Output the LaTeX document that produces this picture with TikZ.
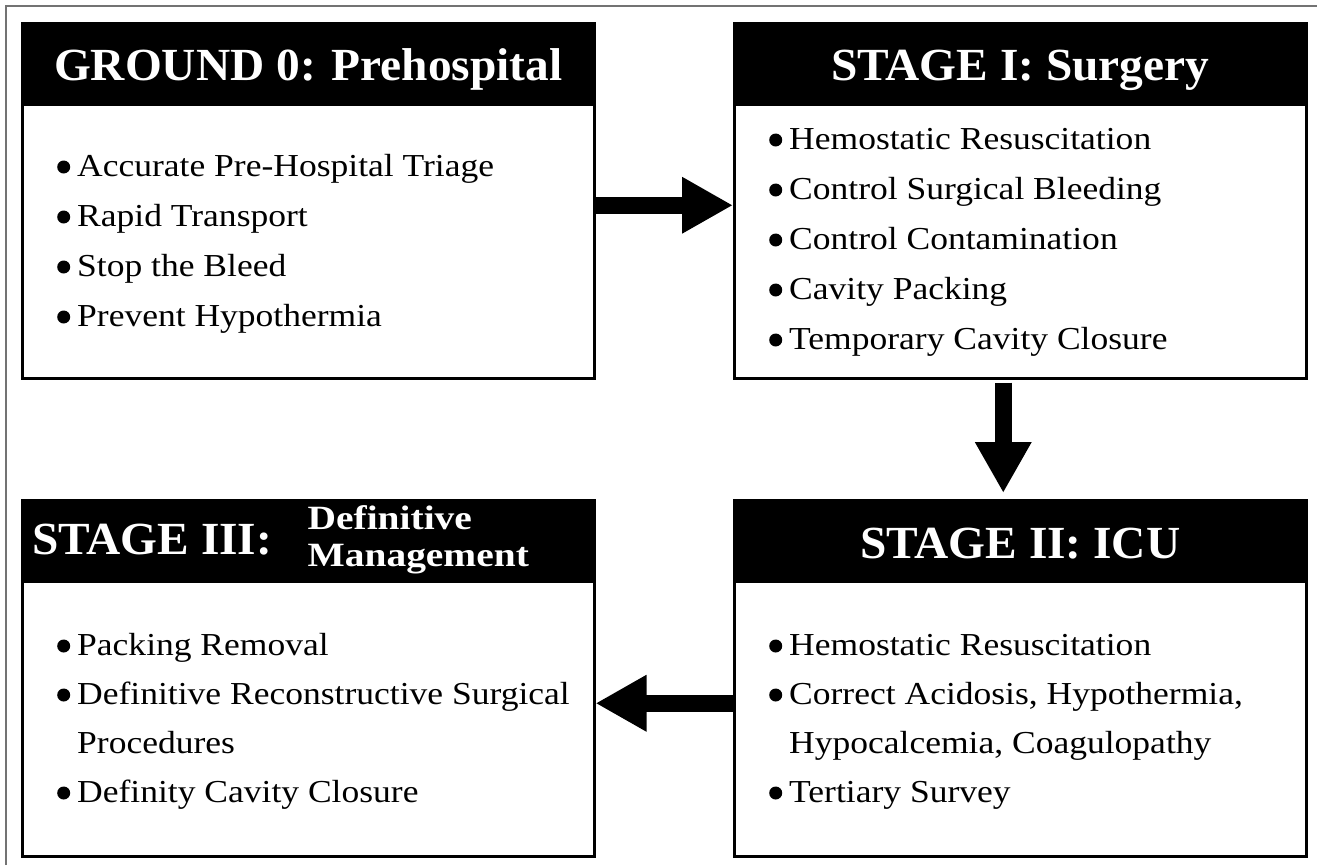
\documentclass[tikz,border=0pt]{standalone}
\usepackage{fontspec}
\setmainfont{Liberation Serif}
\newfontfamily\bodyfont[FakeStretch=1.11]{Liberation Serif}
\newfontfamily\headfont[FakeStretch=1.03]{Liberation Serif}
\newfontfamily\subfont[FakeStretch=1.16]{Liberation Serif}
\usetikzlibrary{arrows.meta,positioning}

\newcommand{\bul}{\makebox[20pt][l]{\raisebox{2.5pt}{\tikz\fill (0,0) circle (6.5pt);}}}
\newcommand{\hang}{\hspace*{20pt}}

\tikzset{
  stagebox/.style={draw=black, line width=2.5pt, minimum width=572pt, minimum height=#1, anchor=north west, inner sep=0pt},
  headband/.style={fill=black, minimum width=572pt, minimum height=84pt, anchor=north west, inner sep=0pt},
  headtext/.style={text=white, font=\headfont\fontsize{46}{46}\selectfont\bfseries, inner sep=0pt},
  itemlist/.style={align=left, anchor=base west, inner sep=0pt, font=\bodyfont\fontsize{32}{#1}\selectfont},
  bigarrow/.style={line width=17pt, -{Triangle[length=51pt,width=53pt]}},
}

\begin{document}
\begin{tikzpicture}[x=1pt,y=-1pt]
\useasboundingbox (0,0) rectangle (1317,865);
\draw[black!55, line width=1.5pt] (6,865) -- (6,6) -- (1317,6);

% the four stages (item lists sit on their last baseline)
\node[stagebox=355pt] (g0) at (21,22) {};
\node[headband] (g0h) at (g0.north west) {};
\node[headtext, anchor=base] (g0t) at ([yshift=-58pt]g0.north) {GROUND 0: Prehospital};
\node[itemlist=50pt] (g0b) at ([xshift=36pt,yshift=-304pt]g0.north west)
  {\bul Accurate Pre-Hospital Triage\\ \bul Rapid Transport\\ \bul Stop the Bleed\\ \bul Prevent Hypothermia};

\node[stagebox=355pt] (s1) at (733,22) {};
\node[headband] (s1h) at (s1.north west) {};
\node[headtext, anchor=base] (s1t) at ([yshift=-58pt]s1.north) {STAGE I: Surgery};
\node[itemlist=50pt] (s1b) at ([xshift=36pt,yshift=-327pt]s1.north west)
  {\bul Hemostatic Resuscitation\\ \bul Control Surgical Bleeding\\ \bul Control Contamination\\ \bul Cavity Packing\\ \bul Temporary Cavity Closure};

\node[stagebox=356pt] (s2) at (733,499) {};
\node[headband] (s2h) at (s2.north west) {};
\node[headtext, anchor=base] (s2t) at ([yshift=-59pt]s2.north) {STAGE II: ICU};
\node[itemlist=49pt] (s2b) at ([xshift=36pt,yshift=-303pt]s2.north west)
  {\bul Hemostatic Resuscitation\\ \bul Correct Acidosis, Hypothermia,\\ \hang Hypocalcemia, Coagulopathy\\ \bul Tertiary Survey};

\node[stagebox=356pt] (s3) at (21,499) {};
\node[headband] (s3h) at (s3.north west) {};
\node[headtext, anchor=base west] (s3t) at ([xshift=11pt,yshift=-55pt]s3.north west) {STAGE III:};
\node[headtext, anchor=base west, align=left, font=\subfont\fontsize{34}{37}\selectfont\bfseries]
  (s3s) at ([xshift=35pt,yshift=-12pt]s3t.base east) {Definitive\\Management};
\node[itemlist=49pt] (s3b) at ([xshift=36pt,yshift=-303pt]s3.north west)
  {\bul Packing Removal\\ \bul Definitive Reconstructive Surgical\\ \hang Procedures\\ \bul Definity Cavity Closure};

% flow between stages
\draw[bigarrow] ([yshift=-4.5pt]g0.east) -- ([yshift=-4.5pt]s1.west);
\draw[bigarrow] ([xshift=-17pt,yshift=-3pt]s1.south) -- ([xshift=-17pt,yshift=6pt]s2.north);
\draw[bigarrow] ([yshift=-25pt]s2.west) -- ([yshift=-25pt]s3.east);
\end{tikzpicture}
\end{document}
